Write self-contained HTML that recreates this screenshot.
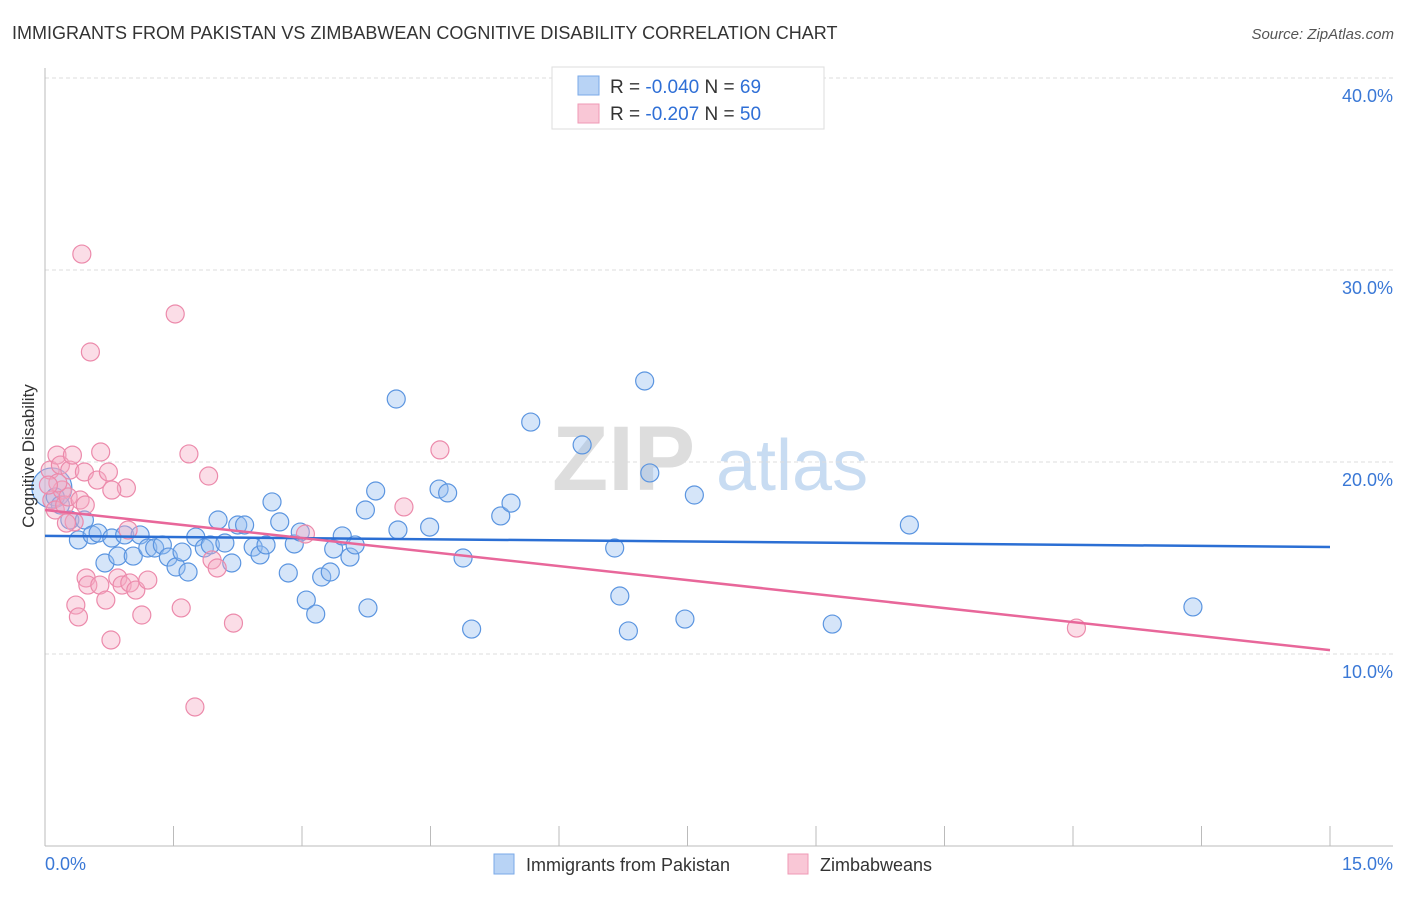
<!DOCTYPE html>
<html><head><meta charset="utf-8"><style>
body{margin:0;background:#fff;font-family:"Liberation Sans",sans-serif;}
svg text{font-family:"Liberation Sans",sans-serif;}
</style></head><body>
<svg id="chart" width="1406" height="892" xmlns="http://www.w3.org/2000/svg">
<text x="12" y="39" font-size="18" fill="#333">IMMIGRANTS FROM PAKISTAN VS ZIMBABWEAN COGNITIVE DISABILITY CORRELATION CHART</text>
<text x="1394" y="39" font-size="15" fill="#555" text-anchor="end" font-style="italic">Source: ZipAtlas.com</text>
<g>
<text x="552" y="490" font-size="92" fill="#ddd" font-family="Liberation Serif" font-weight="bold">ZIP</text>
<text x="716" y="490" font-size="72" fill="#c8dcf2">atlas</text>
</g>
<g id="grid"></g>
<g id="axes"></g>
<g id="marks"></g>
<text transform="translate(34,456) rotate(-90)" font-size="17" fill="#333" text-anchor="middle">Cognitive Disability</text>
<g>
<rect x="552" y="67" width="272" height="62" fill="#fff" stroke="#ddd"/>
<rect x="578" y="76" width="21" height="19" fill="#b8d3f5" stroke="#7aaae8"/>
<rect x="578" y="104" width="21" height="19" fill="#f9c7d6" stroke="#ef9ab5"/>
<text x="610" y="93" font-size="19" fill="#333">R = <tspan fill="#2f6fd6">-0.040</tspan>   N = <tspan fill="#2f6fd6">69</tspan></text>
<text x="610" y="120" font-size="19" fill="#333">R =  <tspan fill="#2f6fd6">-0.207</tspan>   N = <tspan fill="#2f6fd6">50</tspan></text>
</g>
<g>
<rect x="494" y="854" width="20" height="20" fill="#b8d3f5" stroke="#7aaae8"/>
<text x="526" y="871" font-size="18" fill="#333">Immigrants from Pakistan</text>
<rect x="788" y="854" width="20" height="20" fill="#f9c7d6" stroke="#ef9ab5"/>
<text x="820" y="871" font-size="18" fill="#333">Zimbabweans</text>
</g>
</svg>
<script>
const yTicks=[10,20,30,40];
const yTickLabels=["10.0%","20.0%","30.0%","40.0%"];
const xTickLabels=["0.0%","15.0%"];
const blueX=[.08,.12,.18,.29,.39,.46,.55,.62,.70,.78,.85,.93,1.03,1.11,1.20,1.28,1.37,1.44,1.53,1.60,1.67,1.76,1.86,1.93,2.02,2.10,2.18,2.25,2.33,2.43,2.51,2.58,2.65,2.74,2.84,2.91,2.98,3.05,3.16,3.23,3.33,3.37,3.47,3.56,3.62,3.77,3.74,3.86,4.10,4.12,4.49,4.60,4.70,4.88,4.98,5.32,5.44,5.67,6.27,6.65,6.71,6.81,7.00,7.06,7.47,7.58,9.19,10.09,13.40];
const blueY=[18.65,18.18,17.76,16.98,15.94,16.98,16.20,16.30,14.74,16.04,15.10,16.20,15.10,16.20,15.52,15.52,15.68,15.05,14.53,15.31,14.27,16.09,15.52,15.68,16.98,15.78,14.74,16.72,16.72,15.57,15.16,15.68,17.92,16.88,14.22,15.73,16.35,12.81,12.08,14.01,14.27,15.47,16.15,15.05,15.68,12.40,17.50,18.49,23.28,16.46,16.61,18.59,18.39,15.00,11.30,17.19,17.86,22.08,20.89,15.52,13.02,11.20,24.22,19.43,11.82,18.28,11.56,16.72,12.45];
const pinkX=[.06,.08,.12,.14,.18,.20,.23,.27,.29,.32,.34,.36,.39,.41,.43,.46,.48,.50,.53,.61,.64,.71,.74,.77,.85,.90,.95,.97,.99,1.06,1.13,1.20,1.52,1.59,1.68,1.75,1.91,1.95,2.01,2.20,3.04,4.19,4.61,12.04,.25,.15,.47,.65,.78,.04];
const pinkY=[19.58,18.02,17.50,20.36,19.84,18.54,17.76,18.18,19.58,20.36,16.88,12.55,11.93,18.02,30.83,19.48,13.96,13.59,25.73,19.06,13.59,12.81,19.48,10.73,13.96,13.59,18.65,16.46,13.70,13.33,12.03,13.85,27.71,12.40,20.42,7.24,19.27,14.90,14.48,11.61,16.25,17.66,20.63,11.35,16.82,18.91,17.76,20.52,18.54,18.8];
const blueTrend=[16.15,15.57];
const pinkTrend=[17.5,10.2];
const NS="http://www.w3.org/2000/svg";
const X=v=>45+v/15*1285, Y=v=>846-v*19.2;
function mk(tag,attrs,parent){const e=document.createElementNS(NS,tag);for(const k in attrs)e.setAttribute(k,attrs[k]);document.getElementById(parent).appendChild(e);return e;}
yTicks.forEach((t,i)=>{
 const g=mk('line',{x1:45,x2:1393,y1:Y(t),y2:Y(t),stroke:'#ddd','stroke-dasharray':'4,3'},'grid');
 
 
 const l=mk('text',{x:1393,y:Y(t)+24,'font-size':18,fill:'#3a78d6','text-anchor':'end'},'grid');
 l.textContent=yTickLabels[i];
 
 
});
const ax=mk('line',{x1:45,x2:1393,y1:846,y2:846,stroke:'#bbb'},'axes');


const ay=mk('line',{x1:45,x2:45,y1:68,y2:846,stroke:'#bbb'},'axes');


for(let i=0;i<=10;i++){const v=i*1.5;
 const t=mk('line',{x1:X(v),x2:X(v),y1:826,y2:846,stroke:'#bbb'},'axes');
 
 
}
[0,15].forEach((v,i)=>{
 const l=mk('text',{x:v===0?45:1393,y:870,'font-size':18,fill:'#3a78d6','text-anchor':v===0?'start':'end'},'axes');
 l.textContent=xTickLabels[i];
 
 
});
blueX.forEach((x,i)=>{
 const c=mk('circle',{cx:X(x),cy:Y(blueY[i]),r:i===0?20:9,fill:'rgba(150,190,240,0.4)',stroke:'#5b95e0','stroke-width':1.2},'marks');
 
 
});
pinkX.forEach((x,i)=>{
 const c=mk('circle',{cx:X(x),cy:Y(pinkY[i]),r:9,fill:'rgba(245,170,195,0.4)',stroke:'#ec8aab','stroke-width':1.2},'marks');
 
 
});
const bl=mk('line',{x1:X(0),x2:X(15),y1:Y(blueTrend[0]),y2:Y(blueTrend[1]),stroke:'#2b6fd4','stroke-width':2.5},'marks');


const pl=mk('line',{x1:X(0),x2:X(15),y1:Y(pinkTrend[0]),y2:Y(pinkTrend[1]),stroke:'#e8679a','stroke-width':2.5},'marks');


</script>
</body></html>
